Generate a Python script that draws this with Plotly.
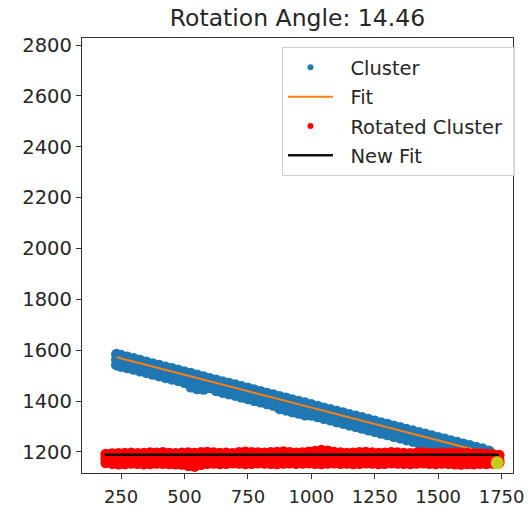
import plotly.graph_objects as go

# ---------------- data ----------------
title_text = "Rotation Angle: 14.46"

cluster_x = [232, 250, 275, 300, 325, 350, 375, 400, 425, 450, 475, 500, 525, 550, 575, 600,
             625, 650, 675, 700, 725, 750, 775, 800, 825, 850, 875, 900, 925, 950, 975,
             1000, 1025, 1050, 1075, 1100, 1125, 1150, 1175, 1200, 1225, 1250, 1275, 1300, 1325,
             1350, 1375, 1400, 1425, 1450, 1475, 1500, 1525, 1550, 1575, 1600, 1625, 1650, 1675, 1700]
cluster_upper = [1584, 1580, 1573, 1567, 1560, 1554, 1547, 1541, 1534, 1528, 1522, 1515, 1509, 1502, 1496, 1489,
                 1483, 1476, 1470, 1464, 1457, 1451, 1444, 1438, 1431, 1425, 1418, 1412, 1405, 1399, 1393,
                 1386, 1380, 1373, 1367, 1360, 1354, 1347, 1341, 1335, 1328, 1322, 1315, 1309, 1302,
                 1296, 1289, 1283, 1276, 1270, 1264, 1257, 1251, 1244, 1238, 1231, 1225, 1218, 1212, 1204]
cluster_middle = [1562, 1558, 1551, 1545, 1538, 1532, 1525, 1519, 1512, 1506, 1500, 1493, 1487, 1480, 1474, 1467,
                  1461, 1454, 1448, 1442, 1435, 1429, 1422, 1416, 1409, 1403, 1396, 1390, 1383, 1377, 1371,
                  1364, 1358, 1351, 1345, 1338, 1332, 1325, 1319, 1313, 1306, 1300, 1293, 1287, 1280,
                  1274, 1267, 1261, 1254, 1248, 1242, 1235, 1229, 1222, 1216, 1209, 1203, 1196, 1190, 1186]
cluster_lower = [1542, 1536, 1531, 1525, 1518, 1512, 1505, 1499, 1492, 1486, 1480, 1473, 1455, 1448, 1446, 1452,
                 1441, 1434, 1428, 1422, 1415, 1409, 1402, 1396, 1389, 1383, 1370, 1364, 1357, 1352, 1345,
                 1344, 1338, 1331, 1325, 1318, 1312, 1305, 1299, 1293, 1286, 1280, 1273, 1267, 1260,
                 1254, 1247, 1241, 1234, 1228, 1222, 1215, 1209, 1202, 1196, 1189, 1183, 1176, 1170, 1170]

fit_x = [233, 1700]
fit_y = [1572, 1194]

rot_x = [190, 215, 240, 265, 290, 315, 340, 365, 390, 415, 440, 465, 490, 515, 540, 565,
         590, 615, 640, 665, 690, 715, 740, 765, 790, 815, 840, 865, 890, 915, 940, 965,
         990, 1015, 1040, 1065, 1090, 1115, 1140, 1165, 1190, 1215, 1240, 1265, 1290, 1315,
         1340, 1365, 1390, 1415, 1440, 1465, 1490, 1515, 1540, 1565, 1590, 1615, 1640, 1665,
         1690, 1715, 1740]
rot_upper = [1191, 1193, 1194, 1195, 1196, 1194, 1195, 1197, 1196, 1198,
             1195, 1194, 1196, 1197, 1195, 1198, 1199, 1197, 1195, 1196,
             1194, 1198, 1200, 1198, 1197, 1196, 1198, 1199, 1201, 1198,
             1196, 1197, 1200, 1203, 1206, 1204, 1199, 1197, 1195, 1196,
             1198, 1199, 1197, 1195, 1196, 1198, 1197, 1195, 1194, 1196,
             1198, 1195, 1194, 1196, 1195, 1197, 1194, 1195, 1193, 1194,
             1192, 1190, 1187]
rot_middle = [1174, 1175, 1176, 1175, 1174, 1176, 1175, 1174, 1175, 1176,
              1175, 1174, 1176, 1175, 1174, 1175, 1176, 1175, 1174, 1176,
              1175, 1174, 1175, 1176, 1175, 1174, 1176, 1175, 1174, 1175,
              1176, 1175, 1174, 1175, 1176, 1175, 1174, 1176, 1175, 1174,
              1175, 1176, 1175, 1174, 1176, 1175, 1174, 1175, 1176, 1175,
              1174, 1176, 1175, 1174, 1175, 1176, 1175, 1174, 1175, 1176,
              1173, 1171, 1168]
rot_lower = [1157, 1154, 1152, 1153, 1155, 1154, 1152, 1153, 1155, 1154,
             1153, 1152, 1151, 1146, 1143, 1150, 1154, 1155, 1153, 1154,
             1156, 1155, 1153, 1154, 1156, 1155, 1154, 1153, 1155, 1156,
             1154, 1155, 1156, 1154, 1153, 1155, 1156, 1154, 1155, 1153,
             1154, 1156, 1155, 1153, 1154, 1156, 1155, 1154, 1153, 1155,
             1156, 1154, 1153, 1155, 1154, 1152, 1151, 1153, 1152, 1154,
             1153, 1155, 1157]

newfit_x = [185, 1740]
newfit_y = [1189, 1189]

pivot_x = [1733]
pivot_y = [1157]

x_ticks = [250, 500, 750, 1000, 1250, 1500, 1750]
y_ticks = [1200, 1400, 1600, 1800, 2000, 2200, 2400, 2600, 2800]

legend_names = ["Cluster", "Fit", "Rotated Cluster", "New Fit"]

# ---------------- styling ----------------
BLUE = "#1f77b4"
ORANGE = "#ff7f0e"
RED = "#ff0000"
BLACK = "#111111"
OLIVE = "#c2cc1e"
FONT = "DejaVu Sans"
PAD = "\u00a0\u00a0"
TAIL = "\u00a0"

fig = go.Figure()

def band(xs, rows, color, size):
    for ys in rows:
        fig.add_trace(go.Scatter(x=xs, y=ys, mode="markers", showlegend=False, hoverinfo="skip",
                                 marker=dict(color=color, size=size, line=dict(width=0))))

band(cluster_x, [cluster_upper, cluster_middle, cluster_lower], BLUE, 11)
fig.add_trace(go.Scatter(x=fit_x, y=fit_y, mode="lines", showlegend=False,
                         line=dict(color=ORANGE, width=2)))
band(rot_x, [rot_upper, rot_middle, rot_lower], RED, 11)
fig.add_trace(go.Scatter(x=newfit_x, y=newfit_y, mode="lines", showlegend=False,
                         line=dict(color=BLACK, width=2.5)))
fig.add_trace(go.Scatter(x=pivot_x, y=pivot_y, mode="markers", showlegend=False,
                         marker=dict(color=OLIVE, size=13, line=dict(width=0))))

# legend-only entries
fig.add_trace(go.Scatter(x=[None], y=[None], mode="markers", name=PAD + legend_names[0] + TAIL, legendgroup="a",
                         marker=dict(color=BLUE, size=6)))
fig.add_trace(go.Scatter(x=[None], y=[None], mode="lines", name=PAD + legend_names[1] + TAIL, legendgroup="b",
                         line=dict(color=ORANGE, width=2)))
fig.add_trace(go.Scatter(x=[None], y=[None], mode="markers", name=PAD + legend_names[2] + TAIL, legendgroup="c",
                         marker=dict(color=RED, size=6)))
fig.add_trace(go.Scatter(x=[None], y=[None], mode="lines", name=PAD + legend_names[3] + TAIL, legendgroup="d",
                         line=dict(color=BLACK, width=2.5)))

axis_common = dict(showgrid=False, zeroline=False, showline=True, linecolor="#333333", linewidth=1.3,
                   mirror=True, ticks="outside", ticklen=5, tickwidth=1.2, tickcolor="#333333",
                   automargin=False)

fig.update_layout(
    width=531, height=507,
    margin=dict(l=82, r=18, t=38, b=34, autoexpand=False),
    paper_bgcolor="white", plot_bgcolor="white",
    title=dict(text=title_text, x=0.5, xref="paper", xanchor="center",
               y=1 - 17.5 / 507, yref="container", yanchor="middle",
               font=dict(family=FONT, size=23.5, color="#262626")),
    xaxis=dict(range=[96, 1795], tickvals=x_ticks, ticktext=[str(v) for v in x_ticks],
               ticklabelstandoff=2, tickfont=dict(family=FONT, size=18, color="#262626"),
               **axis_common),
    yaxis=dict(range=[1117, 2828], tickvals=y_ticks, ticktext=[str(v) for v in y_ticks],
               tickfont=dict(family=FONT, size=19.5, color="#262626"), **axis_common),
    legend=dict(x=0.464, y=0.979, xanchor="left", yanchor="top",
                bgcolor="rgba(255,255,255,0.85)", bordercolor="#d0d0d0", borderwidth=1,
                font=dict(family=FONT, size=19.5, color="#262626"),
                tracegroupgap=1, itemwidth=45),
    showlegend=True,
)

fig.write_html("out.html")
